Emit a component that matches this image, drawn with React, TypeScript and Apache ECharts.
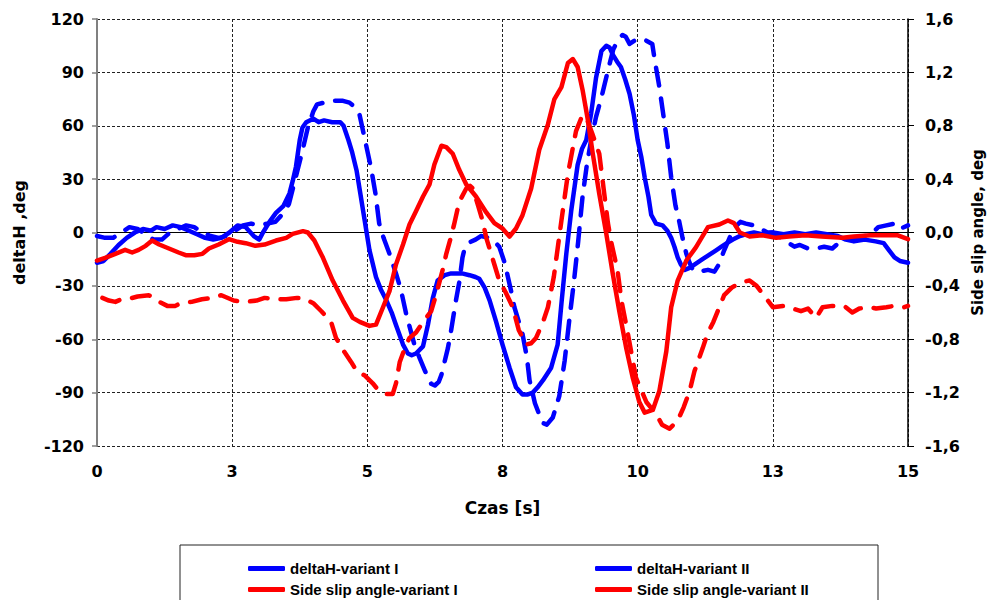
import React, { useEffect, useRef } from "react";
import * as echarts from "echarts";

const seriesNames = [
  "deltaH-variant I",
  "deltaH-variant II",
  "Side slip angle-variant I",
  "Side slip angle-variant II",
];

const xTickLabels = ["0", "3", "5", "8", "10", "13", "15"];

// deltaH, deg (left axis)  [time s, value]
const deltaH_I: [number, number][] = [
  [0, -17], [0.12, -16], [0.25, -12], [0.4, -7], [0.55, -3], [0.7, 0], [0.85, 2], [1.0, 1], [1.1, 3], [1.25, 2],
  [1.4, 4], [1.55, 3], [1.7, 1], [1.85, -1], [2.0, -3], [2.15, -4], [2.3, -3], [2.45, 0], [2.6, 4], [2.75, 3],
  [2.9, -2], [3.0, -4], [3.07, 0], [3.19, 6], [3.31, 11], [3.45, 15], [3.56, 22], [3.62, 29], [3.68, 37], [3.75, 52],
  [3.8, 59], [3.87, 62], [4.0, 64], [4.1, 62], [4.2, 63], [4.35, 62], [4.5, 62], [4.56, 60], [4.65, 52], [4.72, 45],
  [4.8, 35], [4.87, 22], [4.95, 7], [5.04, -10], [5.16, -25], [5.25, -32], [5.35, -38], [5.45, -45], [5.53, -52], [5.66, -63],
  [5.75, -68], [5.82, -69], [5.9, -68], [6.03, -64], [6.12, -52], [6.21, -37], [6.3, -27], [6.43, -24], [6.55, -23], [6.64, -23],
  [6.75, -23], [6.89, -24], [7.0, -25], [7.07, -26], [7.17, -31], [7.26, -38], [7.38, -50], [7.5, -63], [7.63, -76], [7.75, -87],
  [7.87, -91], [7.97, -91], [8.06, -90], [8.15, -87], [8.25, -83], [8.4, -76], [8.52, -63], [8.59, -40], [8.68, -12], [8.77, 12],
  [8.89, 38], [8.97, 47], [9.05, 52], [9.14, 67], [9.23, 87], [9.33, 102], [9.42, 105], [9.48, 104], [9.54, 100], [9.62, 96],
  [9.69, 93], [9.77, 86], [9.85, 78], [9.93, 66], [10.0, 52], [10.07, 42], [10.13, 31], [10.2, 20], [10.25, 10], [10.34, 5],
  [10.46, 4], [10.55, 1], [10.62, -3], [10.68, -8], [10.74, -14], [10.8, -18], [10.87, -21], [10.95, -20], [11.05, -18], [11.2, -15],
  [11.35, -12], [11.45, -10], [11.55, -8], [11.65, -6], [11.76, -4], [11.89, -2], [12.0, -1], [12.15, 0], [12.3, -1], [12.5, 0],
  [12.7, -1], [12.9, 0], [13.1, -1], [13.3, 0], [13.5, -1], [13.7, -2], [13.85, -4], [14.0, -5], [14.2, -4], [14.4, -5],
  [14.55, -6], [14.65, -10], [14.75, -14], [14.85, -16], [15, -17],
];

const deltaH_II: [number, number][] = [
  [0, -2], [0.15, -3], [0.3, -3], [0.45, 0], [0.6, 3], [0.75, 2], [0.9, -1], [1.05, -4], [1.2, -4], [1.35, 0],
  [1.5, 2], [1.65, 4], [1.8, 3], [1.95, 0], [2.1, -2], [2.25, -3], [2.4, -2], [2.55, 1], [2.7, 4], [2.85, 5],
  [3.0, 4], [3.15, 5], [3.3, 6], [3.42, 10], [3.55, 16], [3.65, 28], [3.75, 40], [3.8, 46], [3.9, 59], [4.0, 68],
  [4.07, 72], [4.2, 73], [4.3, 74], [4.45, 74], [4.55, 74], [4.67, 73], [4.75, 71], [4.85, 67], [4.95, 53], [5.07, 36],
  [5.15, 22], [5.22, 5], [5.3, -3], [5.41, -12], [5.53, -23], [5.62, -32], [5.72, -46], [5.8, -55], [5.87, -63], [5.96, -70],
  [6.07, -78], [6.18, -85], [6.25, -86], [6.32, -84], [6.37, -80], [6.49, -65], [6.55, -55], [6.64, -38], [6.7, -28], [6.76, -14],
  [6.8, -9], [6.86, -6], [7.0, -4], [7.1, -2], [7.26, -3], [7.35, -5], [7.44, -8], [7.54, -17], [7.66, -33], [7.72, -42],
  [7.87, -57], [7.95, -70], [8.0, -83], [8.1, -96], [8.24, -107], [8.32, -108], [8.43, -104], [8.55, -92], [8.65, -72], [8.74, -48],
  [8.82, -28], [8.9, -5], [8.98, 20], [9.06, 38], [9.14, 52], [9.23, 65], [9.33, 76], [9.45, 91], [9.55, 103], [9.65, 109],
  [9.72, 111], [9.78, 110], [9.85, 106], [9.95, 108], [10.05, 107], [10.15, 108], [10.27, 106], [10.31, 98], [10.4, 82], [10.48, 65],
  [10.55, 50], [10.62, 31], [10.7, 15], [10.77, 6], [10.83, -3], [10.9, -12], [10.96, -17], [11.02, -21], [11.15, -22], [11.3, -21],
  [11.42, -22], [11.5, -18], [11.6, -10], [11.7, -3], [11.8, 3], [11.9, 6], [12.0, 5], [12.15, 4], [12.28, 2], [12.4, 0],
  [12.5, 0], [12.65, -3], [12.8, -6], [12.9, -8], [13.0, -7], [13.15, -9], [13.3, -9], [13.45, -8], [13.6, -9], [13.75, -5],
  [13.9, -3], [14.05, -3], [14.2, -2], [14.35, 0], [14.45, 3], [14.6, 4], [14.75, 5], [14.85, 2], [15, 4],
];

// Side slip angle, deg (right axis)  [time s, value]
const slip_I: [number, number][] = [
  [0, -0.21], [0.15, -0.19], [0.34, -0.16], [0.52, -0.13], [0.65, -0.15], [0.77, -0.13], [0.9, -0.1], [1.02, -0.06], [1.15, -0.09], [1.33, -0.12],
  [1.51, -0.15], [1.64, -0.17], [1.8, -0.17], [1.95, -0.16], [2.07, -0.12], [2.25, -0.09], [2.44, -0.05], [2.6, -0.07], [2.75, -0.08], [2.93, -0.1],
  [3.1, -0.09], [3.31, -0.06], [3.5, -0.04], [3.62, -0.01], [3.81, 0.01], [3.9, 0], [4.02, -0.06], [4.18, -0.19], [4.36, -0.36], [4.55, -0.51],
  [4.73, -0.64], [4.86, -0.67], [5.04, -0.7], [5.16, -0.69], [5.29, -0.56], [5.41, -0.44], [5.53, -0.24], [5.66, -0.09], [5.78, 0.06], [5.9, 0.16],
  [6.03, 0.27], [6.15, 0.36], [6.24, 0.51], [6.37, 0.65], [6.46, 0.64], [6.58, 0.59], [6.7, 0.47], [6.83, 0.36], [7.01, 0.27], [7.2, 0.15],
  [7.35, 0.07], [7.5, 0.03], [7.63, -0.03], [7.75, 0.03], [7.87, 0.13], [8.03, 0.33], [8.18, 0.62], [8.34, 0.81], [8.46, 1.0], [8.59, 1.09],
  [8.71, 1.27], [8.8, 1.3], [8.89, 1.24], [8.98, 1.07], [9.08, 0.84], [9.17, 0.59], [9.29, 0.29], [9.42, -0.01], [9.54, -0.31], [9.66, -0.59],
  [9.79, -0.87], [9.91, -1.09], [10.03, -1.27], [10.13, -1.35], [10.28, -1.33], [10.4, -1.19], [10.53, -0.89], [10.62, -0.56], [10.74, -0.36], [10.9, -0.21],
  [11.08, -0.11], [11.3, 0.04], [11.51, 0.06], [11.67, 0.09], [11.78, 0.07], [11.89, 0], [12.07, -0.03], [12.3, -0.02], [12.56, -0.04], [12.8, -0.03],
  [13.1, -0.02], [13.4, -0.03], [13.79, -0.04], [14.0, -0.03], [14.3, -0.02], [14.6, -0.02], [14.8, -0.02], [15, -0.05],
];

const slip_II: [number, number][] = [
  [0.1, -0.49], [0.22, -0.51], [0.34, -0.52], [0.45, -0.5], [0.56, -0.5], [0.75, -0.48], [0.96, -0.47], [1.1, -0.51], [1.3, -0.55], [1.45, -0.55],
  [1.54, -0.53], [1.75, -0.52], [1.94, -0.5], [2.13, -0.49], [2.3, -0.47], [2.53, -0.51], [2.75, -0.52], [2.95, -0.51], [3.1, -0.49], [3.3, -0.5],
  [3.5, -0.5], [3.7, -0.49], [3.81, -0.49], [4.0, -0.53], [4.15, -0.59], [4.33, -0.67], [4.42, -0.79], [4.55, -0.88], [4.7, -0.97], [4.82, -1.05],
  [4.95, -1.07], [5.1, -1.13], [5.22, -1.19], [5.35, -1.21], [5.47, -1.21], [5.53, -1.13], [5.6, -0.97], [5.7, -0.86], [5.78, -0.79], [5.9, -0.75],
  [6.05, -0.66], [6.18, -0.59], [6.27, -0.47], [6.4, -0.27], [6.46, -0.16], [6.55, -0.03], [6.61, 0.07], [6.7, 0.23], [6.83, 0.33], [6.9, 0.35],
  [6.95, 0.33], [7.05, 0.2], [7.13, 0.09], [7.2, -0.04], [7.35, -0.24], [7.44, -0.36], [7.56, -0.45], [7.69, -0.56], [7.8, -0.73], [7.94, -0.84],
  [8.03, -0.83], [8.12, -0.79], [8.25, -0.67], [8.34, -0.56], [8.45, -0.33], [8.59, 0.09], [8.71, 0.44], [8.86, 0.76], [8.98, 0.88], [9.08, 0.83],
  [9.17, 0.73], [9.29, 0.59], [9.37, 0.33], [9.45, 0.07], [9.51, -0.07], [9.63, -0.29], [9.7, -0.51], [9.82, -0.76], [9.91, -0.96], [9.97, -1.09],
  [10.16, -1.27], [10.34, -1.36], [10.45, -1.44], [10.59, -1.47], [10.74, -1.41], [10.85, -1.31], [10.96, -1.19], [11.05, -1.04], [11.2, -0.87], [11.29, -0.76],
  [11.4, -0.67], [11.51, -0.56], [11.6, -0.47], [11.75, -0.41], [11.94, -0.37], [12.07, -0.36], [12.2, -0.4], [12.37, -0.49], [12.5, -0.56], [12.7, -0.55],
  [12.87, -0.57], [13.02, -0.59], [13.15, -0.57], [13.3, -0.64], [13.42, -0.56], [13.6, -0.55], [13.82, -0.55], [13.97, -0.6], [14.1, -0.57], [14.29, -0.56],
  [14.41, -0.57], [14.6, -0.56], [14.75, -0.55], [14.93, -0.56], [15, -0.55],
];

const AXIS_FONT = "'DejaVu Sans', Verdana, sans-serif";
const LEGEND_FONT = "'Liberation Sans', Arial, sans-serif";

export default function App() {
  const ref = useRef<HTMLDivElement>(null);

  useEffect(() => {
    document.body.style.margin = "0";
    if (!ref.current) return;
    const chart = echarts.init(ref.current, null, { renderer: "svg" });

    const axisLabelStyle = {
      color: "#000",
      fontWeight: "bold" as const,
      fontSize: 16,
      fontFamily: AXIS_FONT,
    };
    const gridLine = { show: true, lineStyle: { color: "#222", type: [3, 2] as number[], width: 1 } };

    const lineBase = (color: string, dashed: boolean) => ({
      color,
      width: 4.5,
      type: dashed ? ([18, 13] as number[]) : ("solid" as const),
      cap: "round" as const,
      join: "round" as const,
    });

    const legendCommon = {
      orient: "vertical" as const,
      top: 561,
      padding: 0,
      itemWidth: 37,
      itemHeight: 5,
      itemGap: 6,
      icon: "roundRect",
      textStyle: {
        color: "#000",
        fontWeight: "bold" as const,
        fontSize: 15,
        lineHeight: 15,
        fontFamily: LEGEND_FONT,
      },
    };

    chart.setOption({
      animation: false,
      backgroundColor: "#fff",
      grid: { left: 97, right: 79, top: 19, bottom: 154, outerBoundsMode: "none" },
      legend: [
        { ...legendCommon, left: 248, data: [seriesNames[0], seriesNames[2]] },
        { ...legendCommon, left: 595, data: [seriesNames[1], seriesNames[3]] },
      ],
      graphic: [
        {
          type: "rect",
          shape: { x: 180, y: 545, width: 698, height: 80 },
          style: { fill: "none", stroke: "#222", lineWidth: 1 },
          silent: true,
        },
      ],
      xAxis: {
        type: "value",
        min: 0,
        max: 15,
        interval: 2.5,
        name: "Czas [s]",
        nameLocation: "middle",
        nameGap: 53,
        nameTextStyle: { ...axisLabelStyle, fontSize: 17 },
        axisLine: { show: false },
        axisTick: { show: false },
        axisLabel: {
          ...axisLabelStyle,
          margin: 17,
          formatter: (v: number) => xTickLabels[Math.round(v / 2.5)] ?? "",
        },
        splitLine: gridLine,
      },
      yAxis: [
        {
          type: "value",
          position: "left",
          min: -120,
          max: 120,
          interval: 30,
          name: "deltaH ,deg",
          nameLocation: "middle",
          nameRotate: 90,
          nameGap: 70,
          nameTextStyle: axisLabelStyle,
          axisLine: { show: true, lineStyle: { color: "#808080", width: 2 } },
          axisTick: { show: true, length: 5, lineStyle: { color: "#808080", width: 1.5 } },
          axisLabel: { ...axisLabelStyle, margin: 13 },
          splitLine: gridLine,
        },
        {
          type: "value",
          position: "right",
          min: -1.6,
          max: 1.6,
          interval: 0.4,
          name: "Side slip angle, deg",
          nameLocation: "middle",
          nameRotate: 90,
          nameGap: 62,
          nameTextStyle: { ...axisLabelStyle, fontSize: 15 },
          axisLine: { show: true, lineStyle: { color: "#000", width: 1.5 } },
          axisTick: { show: true, length: 6, lineStyle: { color: "#000", width: 1 } },
          axisLabel: {
            ...axisLabelStyle,
            margin: 17,
            formatter: (v: number) => (Math.abs(v) < 1e-9 ? 0 : v).toFixed(1).replace(".", ","),
          },
          splitLine: { show: false },
        },
      ],
      series: [
        {
          name: seriesNames[0],
          type: "line",
          yAxisIndex: 0,
          data: deltaH_I,
          symbol: "none",
          showSymbol: false,
          itemStyle: { color: "#0000ff" },
          lineStyle: lineBase("#0000ff", false),
          markLine: {
            silent: true,
            symbol: "none",
            label: { show: false },
            lineStyle: { color: "#000", type: "solid", width: 1.2 },
            data: [{ yAxis: 0 }],
            z: 1,
          },
        },
        {
          name: seriesNames[1],
          type: "line",
          yAxisIndex: 0,
          data: deltaH_II,
          symbol: "none",
          showSymbol: false,
          itemStyle: { color: "#0000ff" },
          lineStyle: lineBase("#0000ff", true),
        },
        {
          name: seriesNames[2],
          type: "line",
          yAxisIndex: 1,
          data: slip_I,
          symbol: "none",
          showSymbol: false,
          itemStyle: { color: "#ff0000" },
          lineStyle: lineBase("#ff0000", false),
        },
        {
          name: seriesNames[3],
          type: "line",
          yAxisIndex: 1,
          data: slip_II,
          symbol: "none",
          showSymbol: false,
          itemStyle: { color: "#ff0000" },
          lineStyle: lineBase("#ff0000", true),
        },
      ],
    });

    return () => {
      chart.dispose();
    };
  }, []);

  return <div ref={ref} style={{ width: 987, height: 600 }} />;
}
